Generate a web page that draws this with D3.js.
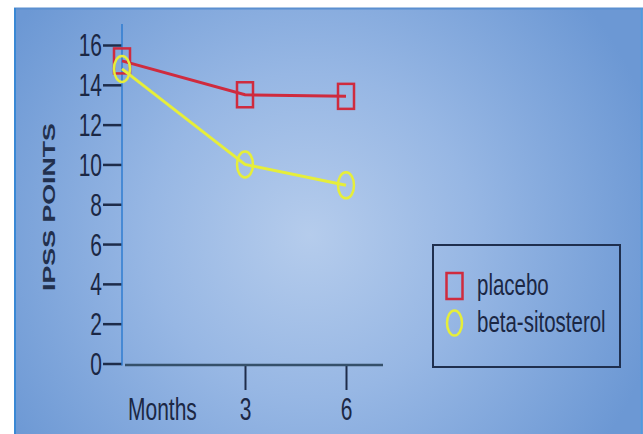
<!DOCTYPE html>
<html>
<head>
<meta charset="utf-8">
<script src="https://cdn.jsdelivr.net/npm/d3@7"></script>
<style>
html,body{margin:0;padding:0;background:#fff;}
svg{display:block;}
text{font-family:"Liberation Sans",Arial,sans-serif;fill:#1b2744;}
</style>
</head>
<body>
<svg id="chart" width="643" height="434"></svg>
<script>
const months = [0, 3, 6];
const monthLabels = ["3", "6"];
const placebo = [15.2, 13.5, 13.42];
const betaSitosterol = [14.8, 10.0, 8.95];
const yTicks = [0, 2, 4, 6, 8, 10, 12, 14, 16];
const seriesNames = ["placebo", "beta-sitosterol"];

const svg = d3.select("#chart");
const W = 643, H = 434;
const sy = 1.45; // vertical text stretch seen in reference

// background
const defs = svg.append("defs");
const grad = defs.append("radialGradient").attr("id", "bg")
  .attr("gradientUnits", "userSpaceOnUse")
  .attr("cx", 310).attr("cy", 235).attr("r", 360);
grad.append("stop").attr("offset", "0").attr("stop-color", "#b5ccec");
grad.append("stop").attr("offset", "0.45").attr("stop-color", "#97b7e4");
grad.append("stop").attr("offset", "1").attr("stop-color", "#6c98d4");

svg.append("rect").attr("x", 14).attr("y", 8).attr("width", W - 14).attr("height", H - 8).attr("fill", "url(#bg)");
svg.append("line").attr("x1", 14).attr("x2", W).attr("y1", 8.5).attr("y2", 8.5).attr("stroke", "#5b8fd0").attr("stroke-width", 2);
svg.append("line").attr("x1", 15).attr("x2", 15).attr("y1", 8).attr("y2", H).attr("stroke", "#3a88d4").attr("stroke-width", 2);
svg.append("line").attr("x1", 641.5).attr("x2", 641.5).attr("y1", 8).attr("y2", H).attr("stroke", "#4d9be0").attr("stroke-width", 1.5);

const x = d3.scaleLinear().domain(months).range([122, 245, 346]);
const y = d3.scaleLinear().domain([0, 16]).range([363.5, 45]);

// y axis
const yAxis = svg.append("g").attr("transform", "translate(122,0)")
  .call(d3.axisLeft(y).tickValues(yTicks).tickSize(19).tickPadding(1).tickFormat(d3.format("d")));
yAxis.select(".domain").remove();
yAxis.selectAll(".tick line").attr("stroke", "#1e2c4a").attr("stroke-width", 2.5);
yAxis.selectAll(".tick text").attr("fill", "#1b2744").style("font-size", "21px")
  .attr("transform", `scale(1,${sy})`).attr("dy", "0.36em");
svg.append("line").attr("x1", 122).attr("x2", 122).attr("y1", y(16) - 21).attr("y2", y(0) + 2)
  .attr("stroke", "#2f7dd0").attr("stroke-width", 1.5);

// x axis
const x0 = y(0) + 1.5;
const xAxis = svg.append("g").attr("transform", `translate(0,${x0})`)
  .call(d3.axisBottom(x).tickValues([3, 6]).tickSize(25).tickFormat((d, i) => monthLabels[i]));
xAxis.select(".domain").remove();
xAxis.selectAll(".tick line").attr("stroke", "#1e2c4a").attr("stroke-width", 2);
xAxis.selectAll(".tick text").attr("fill", "#1b2744").style("font-size", "21px")
  .attr("transform", `scale(1,${sy})`).attr("y", (420 - x0) / sy).attr("dy", 0);
svg.append("line").attr("x1", x(0) + 3).attr("x2", 383).attr("y1", x0).attr("y2", x0)
  .attr("stroke", "#35506a").attr("stroke-width", 2.5);

svg.append("text").attr("transform", `translate(128,420) scale(1,${sy})`)
  .style("font-size", "21px").text("Months");

svg.append("text").attr("transform", `translate(55,207) rotate(-90) scale(1.62,1)`)
  .attr("text-anchor", "middle").style("font-size", "16.5px").style("font-weight", "bold")
  .style("fill", "#22304d").text("IPSS POINTS");

// series
const line = d3.line().x((d, i) => x(months[i])).y(d => y(d));
const red = "#cf2b3e", yellow = "#e6ee3a";

svg.append("path").datum(placebo).attr("d", line).attr("fill", "none").attr("stroke", red).attr("stroke-width", 3);
svg.selectAll(".sq").data(placebo).enter().append("rect")
  .attr("x", (d, i) => x(months[i]) - 8).attr("y", d => y(d) - 12.5)
  .attr("width", 16).attr("height", 25).attr("fill", "none").attr("stroke", red).attr("stroke-width", 2.5);

svg.append("path").datum(betaSitosterol).attr("d", line).attr("fill", "none").attr("stroke", yellow).attr("stroke-width", 3);
svg.selectAll(".ci").data(betaSitosterol).enter().append("ellipse")
  .attr("cx", (d, i) => x(months[i])).attr("cy", d => y(d))
  .attr("rx", 8).attr("ry", 13).attr("fill", "none").attr("stroke", yellow).attr("stroke-width", 2.5);

// legend
svg.append("rect").attr("x", 433).attr("y", 245).attr("width", 187).attr("height", 122)
  .attr("fill", "none").attr("stroke", "#1f2f4e").attr("stroke-width", 2);
svg.append("rect").attr("x", 446.5).attr("y", 273).attr("width", 16).attr("height", 26)
  .attr("fill", "none").attr("stroke", red).attr("stroke-width", 2.5);
svg.append("ellipse").attr("cx", 454.5).attr("cy", 323).attr("rx", 7.5).attr("ry", 12.5)
  .attr("fill", "none").attr("stroke", yellow).attr("stroke-width", 2.5);
svg.selectAll(".lg").data(seriesNames).enter().append("text")
  .attr("transform", (d, i) => `translate(477,${i === 0 ? 295 : 331.5}) scale(1,${sy})`)
  .style("font-size", "20.5px").text(d => d);
</script>
</body>
</html>
